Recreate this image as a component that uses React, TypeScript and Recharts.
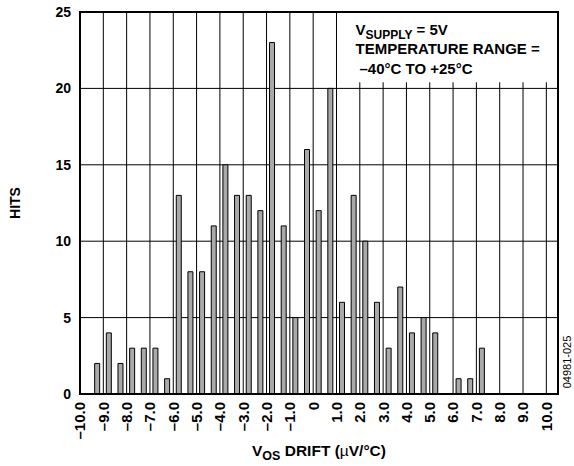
import React from 'react';
import { BarChart, Bar, XAxis, YAxis, CartesianGrid, ReferenceArea, ReferenceLine, Label } from 'recharts';

const binCenters = [
  -9.25, -8.75, -8.25, -7.75, -7.25, -6.75, -6.25, -5.75, -5.25, -4.75, -4.25, -3.75,
  -3.25, -2.75, -2.25, -1.75, -1.25, -0.75, -0.25, 0.25, 0.75, 1.25, 1.75, 2.25,
  2.75, 3.25, 3.75, 4.25, 4.75, 5.25, 5.75, 6.25, 6.75, 7.25,
];
const hits = [
  2, 4, 2, 3, 3, 3, 1, 13, 8, 8, 11, 15,
  13, 13, 12, 23, 11, 5, 16, 12, 20, 6, 13, 10,
  6, 3, 7, 4, 5, 4, 0, 1, 1, 3,
];
const xTicks = [-10, -9, -8, -7, -6, -5, -4, -3, -2, -1, 0, 1, 2, 3, 4, 5, 6, 7, 8, 9, 10];
const yTicks = [0, 5, 10, 15, 20, 25];
const fullGridX = [-9, -8, -7, -6, -5, -4, -3, -2, -1, 0, 1];
const boxGridX = [2, 3, 4, 5, 6, 7, 8, 9, 10];

const data = binCenters.map((x, i) => ({ x, hits: hits[i] }));

const FONT = '"Liberation Sans", Arial, Helvetica, sans-serif';

const fmtX = (v: number) => (v === 0 ? '0' : v < 0 ? '\u2013' + Math.abs(v).toFixed(1) : v.toFixed(1));

const XTick = (props: any) => {
  const { x, y, payload } = props;
  return (
    <text
      x={0}
      y={0}
      transform={`translate(${x},${y}) rotate(-90)`}
      textAnchor="end"
      dy="0.36em"
      fontSize={15}
      fontWeight="bold"
      fill="#000"
      fontFamily={FONT}
    >
      {fmtX(payload.value)}
    </text>
  );
};

const YTitle = (props: any) => {
  const vb = props.viewBox || { x: 0, y: 12, width: 80, height: 382 };
  const cx = vb.x + 15;
  const cy = vb.y + vb.height / 2;
  return (
    <text
      x={0}
      y={0}
      transform={`translate(${cx},${cy}) rotate(-90)`}
      textAnchor="middle"
      dy="0.36em"
      fontSize={14}
      fontWeight="bold"
      fill="#000"
      fontFamily={FONT}
    >
      HITS
    </text>
  );
};

const XTitle = (props: any) => {
  const vb = props.viewBox || { x: 80, y: 394, width: 478, height: 72 };
  const cx = vb.x + vb.width / 2;
  const by = vb.y + 62;
  return (
    <g>
      <text x={cx} y={by} textAnchor="middle" fontSize={15.5} fontWeight="bold" fill="#000" fontFamily={FONT}>
        <tspan>V</tspan>
        <tspan fontSize={12.5} dy={4}>OS</tspan>
        <tspan dy={-4}> DRIFT (</tspan>
        <tspan fontWeight="normal">µ</tspan>
        <tspan>V/°C)</tspan>
      </text>
      <text
        x={0}
        y={0}
        transform={`translate(${vb.x + vb.width + 9},${vb.y - 32}) rotate(-90)`}
        textAnchor="middle"
        dy="0.36em"
        fontSize={11}
        fill="#000"
        fontFamily={FONT}
      >
        04981-025
      </text>
    </g>
  );
};

const BoxText = (props: any) => {
  const vb = props.viewBox || { x: 336, y: 12 };
  const x0 = vb.x + 19;
  const y0 = vb.y;
  return (
    <g fontFamily={FONT} fontWeight="bold" fill="#000">
      <text x={x0} y={y0 + 23} fontSize={15}>
        <tspan>V</tspan>
        <tspan fontSize={12} dy={3.5}>SUPPLY</tspan>
        <tspan dy={-3.5}> = 5V</tspan>
      </text>
      <text x={x0} y={y0 + 42} fontSize={15}>
        TEMPERATURE RANGE =
      </text>
      <text x={x0 + 4} y={y0 + 62} fontSize={15}>
        {'\u201340°C TO +25°C'}
      </text>
    </g>
  );
};

export default function App() {
  return (
    <div style={{ position: 'absolute', left: 0, top: 0, width: 574, height: 466, background: '#fff' }}>
      <BarChart
        width={574}
        height={466}
        data={data}
        margin={{ top: 12, right: 16, bottom: 0, left: 0 }}
        barGap={0}
      >
        <CartesianGrid stroke="#000" strokeWidth={1} vertical={false} />
        <XAxis
          dataKey="x"
          type="number"
          domain={[-10, 10.5]}
          ticks={xTicks}
          interval={0}
          tick={<XTick />}
          tickLine={false}
          tickSize={6}
          tickMargin={2}
          axisLine={{ stroke: '#000', strokeWidth: 2 }}
          height={72}
          allowDataOverflow
        >
          <Label content={<XTitle />} />
        </XAxis>
        <XAxis
          xAxisId="top"
          orientation="top"
          type="number"
          domain={[-10, 10.5]}
          ticks={boxGridX}
          interval={0}
          mirror
          tick={false}
          tickSize={6}
          tickLine={{ stroke: '#000', strokeWidth: 1 }}
          axisLine={false}
          height={0}
          allowDataOverflow
        />
        <YAxis
          type="number"
          domain={[0, 25]}
          ticks={yTicks}
          interval={0}
          width={80}
          tickLine={false}
          tickSize={6}
          tickMargin={3}
          axisLine={{ stroke: '#000', strokeWidth: 2 }}
          tick={{ fill: '#000', fontSize: 14, fontWeight: 'bold', fontFamily: FONT }}
          allowDataOverflow
        >
          <Label content={<YTitle />} />
        </YAxis>
        {fullGridX.map((t) => (
          <ReferenceLine key={'g' + t} x={t} stroke="#000" strokeWidth={1} />
        ))}
        {boxGridX.map((t) => (
          <ReferenceLine
            key={'gl' + t}
            segment={[{ x: t, y: 0 }, { x: t, y: 20.4 }]}
            stroke="#000"
            strokeWidth={1}
          />
        ))}
        <Bar
          dataKey="hits"
          fill="#a9a9a9"
          stroke="#000"
          strokeWidth={1}
          barSize={5}
          isAnimationActive={false}
        />
        <ReferenceArea
          x1={1}
          x2={10.5}
          y1={20}
          y2={25}
          fill="none"
          stroke="none"
          label={<BoxText />}
        />
        <ReferenceArea
          x1={-10}
          x2={10.5}
          y1={0}
          y2={25}
          fill="none"
          stroke="#000"
          strokeWidth={2}
        />
      </BarChart>
    </div>
  );
}
